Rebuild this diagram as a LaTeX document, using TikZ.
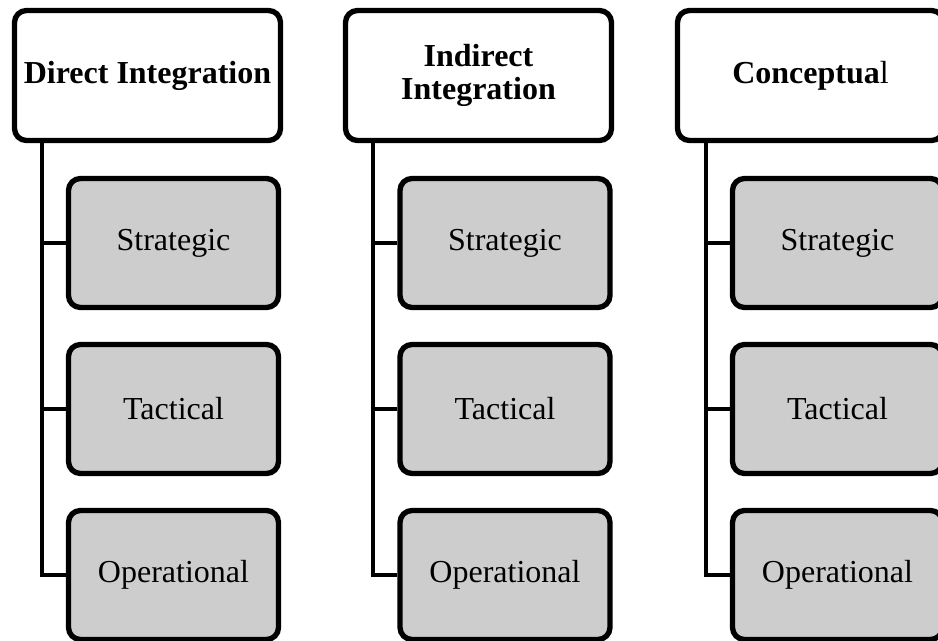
\documentclass[tikz,border=0pt]{standalone}
\usepackage{fontspec}
\setmainfont{Liberation Serif}
\tikzset{
  headbox/.style={draw, line width=4pt, rounded corners=9pt, fill=white, minimum width=199.5pt, minimum height=97.5pt, align=center, inner sep=0pt, font=\fontsize{24}{25}\selectfont\bfseries},
  levelbox/.style={draw, line width=4pt, rounded corners=9pt, fill={rgb,255:red,205;green,205;blue,205}, minimum width=157.5pt, minimum height=96.75pt, inner sep=0pt, font=\fontsize{24}{25}\selectfont},
  trunk/.style={line width=3pt}
}
\begin{document}
\begin{tikzpicture}[x=0.75pt,y=0.75pt,yscale=-1,xscale=1]
\useasboundingbox (0,0) rectangle (938,641);
\clip (0,0) rectangle (938,641);

% Column 1
\node [headbox] (direct) at (147.5,75.5) {Direct Integration};
\node [levelbox] (strat1) at (173.5,243) {Strategic};
\node [levelbox] (tact1) at (173.5,409) {Tactical};
\node [levelbox] (oper1) at (173.5,575) {Operational};
\coordinate (bend1) at (42,575);
\draw [trunk] (direct.south -| bend1) -- (bend1) -- (oper1.west);
\draw [trunk] (strat1.west) -- (strat1.west -| bend1);
\draw [trunk] (tact1.west) -- (tact1.west -| bend1);

% Column 2
\node [headbox] (indirect) at (478.5,75.5) {Indirect\\Integration};
\node [levelbox] (strat2) at (505,243) {Strategic};
\node [levelbox] (tact2) at (505,409) {Tactical};
\node [levelbox] (oper2) at (505,575) {Operational};
\coordinate (bend2) at (373,575);
\draw [trunk] (indirect.south -| bend2) -- (bend2) -- (oper2.west);
\draw [trunk] (strat2.west) -- (strat2.west -| bend2);
\draw [trunk] (tact2.west) -- (tact2.west -| bend2);

% Column 3
\node [headbox] (concept) at (810.5,75.5) {Conceptua\mdseries l};
\node [levelbox] (strat3) at (837.5,243) {Strategic};
\node [levelbox] (tact3) at (837.5,409) {Tactical};
\node [levelbox] (oper3) at (837.5,575) {Operational};
\coordinate (bend3) at (706,575);
\draw [trunk] (concept.south -| bend3) -- (bend3) -- (oper3.west);
\draw [trunk] (strat3.west) -- (strat3.west -| bend3);
\draw [trunk] (tact3.west) -- (tact3.west -| bend3);

\end{tikzpicture}
\end{document}
